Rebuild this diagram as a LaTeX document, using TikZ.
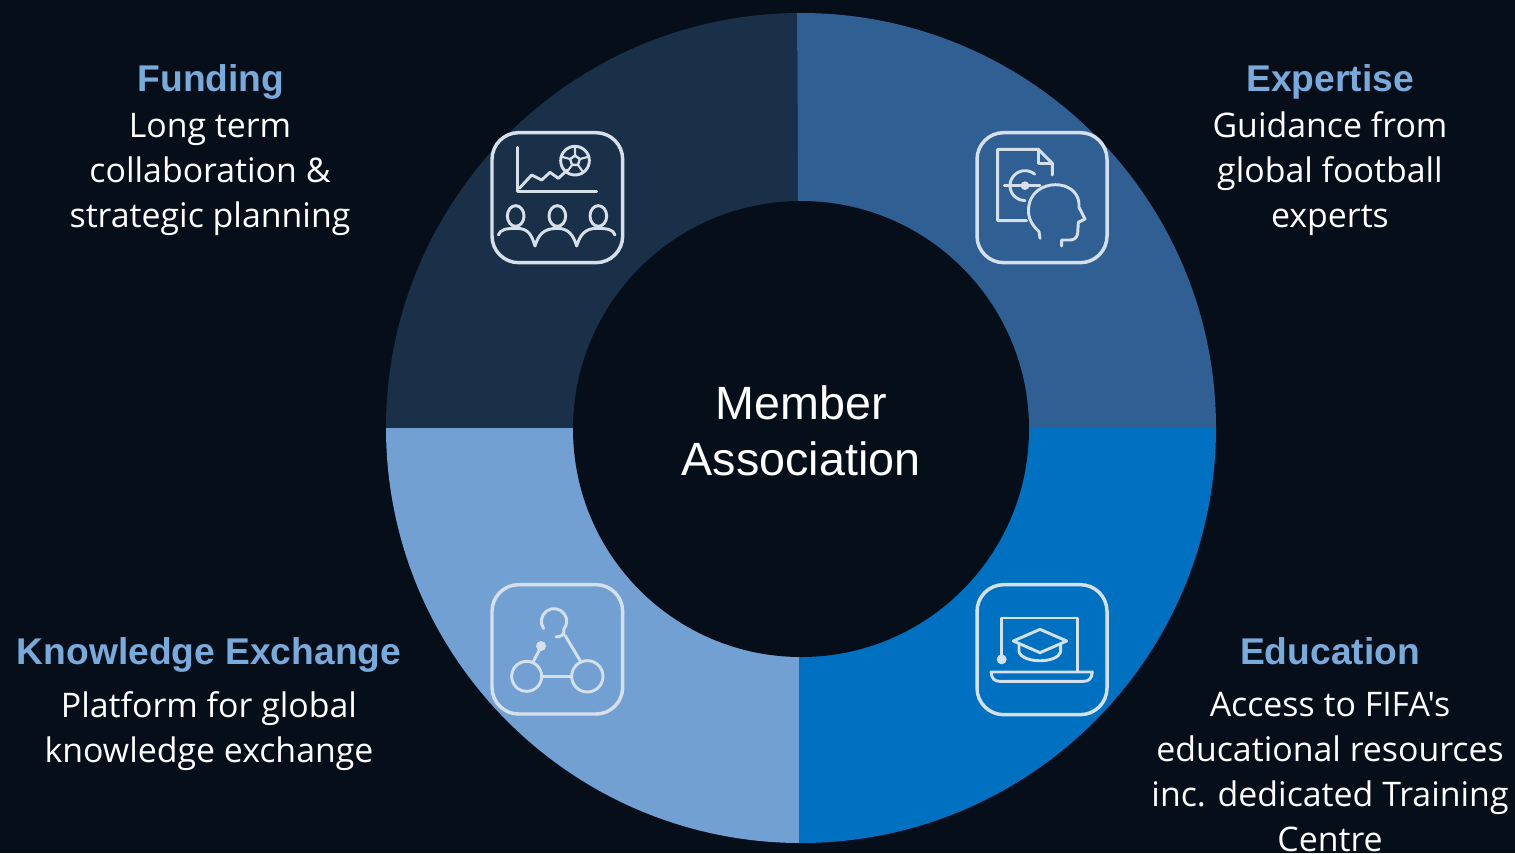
\documentclass[tikz,border=0pt]{standalone}
\usepackage{fontspec}
\setmainfont{Open Sans}
\newfontfamily\bodyfont[Ligatures=Common]{Open Sans}
\newfontfamily\arialfont{Liberation Sans}
\definecolor{bgc}{HTML}{060E1A}
\definecolor{segtl}{HTML}{1A3049}
\definecolor{segtr}{HTML}{305F94}
\definecolor{segbr}{HTML}{0070C0}
\definecolor{segbl}{HTML}{72A0D2}
\definecolor{headc}{HTML}{78ABDC}
\definecolor{iconc}{HTML}{D5E0EA}
\tikzset{
  headtext/.style={text=headc,font=\arialfont\bfseries\fontsize{27.9}{32}\selectfont,anchor=base,inner sep=0pt},
  bodytext/.style={text=white,font=\bodyfont\fontsize{25.4}{33.75}\selectfont,align=center,anchor=base,inner sep=0pt},
  centertext/.style={text=white,font=\arialfont\fontsize{35}{42}\selectfont,align=center,inner sep=0pt},
  iconbox/.style={draw=iconc,line width=2.6pt,rounded corners=20},
  iconline/.style={draw=iconc,line width=2.2pt,line cap=round,line join=round},
  iconscope/.style={x=.25pt,y=-.25pt}
}
\begin{document}
\begin{tikzpicture}[x=.75pt,y=-.75pt]
\path[use as bounding box,fill=bgc] (0,0) rectangle (1515,853);
\begin{scope}
  \clip (801,428) circle[radius=415];
  \fill[segtl] (380,428) -- (380,0) -- (797,0) -- (799,428) -- cycle;
  \fill[segtr] (797,0) -- (1220,0) -- (1220,428) -- (799,428) -- cycle;
  \fill[segbr] (799,428) -- (1220,428) -- (1220,853) -- (799,853) -- cycle;
  \fill[segbl] (380,428) -- (799,428) -- (799,853) -- (380,853) -- cycle;
\end{scope}
\fill[bgc] (801,429) circle[radius=228];

% Funding icon
\begin{scope}[shift={(480,120)},iconscope]
  \draw[iconbox] (36,38) rectangle (428,428);
  \draw[iconline] (113,82) -- (113,215) -- (350,215);
  \draw[iconline] (118,205) -- (155,165) -- (185,180) -- (210,157) -- (235,175) -- (262,150);
  \draw[iconline] (285,122) circle[radius=43];
  \draw[iconline,line width=1.6pt,fill=iconc] (285,106) -- (300,117) -- (294,135) -- (276,135) -- (270,117) -- cycle;
  \fill[segtl] (285,112) -- (295,119) -- (291,131) -- (279,131) -- (275,119) -- cycle;
  \draw[iconline,line width=1.6pt] (285,106) -- (285,80) (300,117) -- (326,110) (294,135) -- (310,157) (276,135) -- (260,157) (270,117) -- (244,110);
  \foreach \hx in {107,232,355} {
    \draw[iconline] (\hx,288) ellipse[x radius=25,y radius=31];
  }
  \draw[iconline] (55,345) .. controls (60,328) and (80,325) .. (110,325)
    .. controls (145,325) and (155,345) .. (165,378)
    .. controls (175,345) and (190,325) .. (232,325)
    .. controls (265,325) and (280,345) .. (290,378)
    .. controls (300,345) and (315,325) .. (350,325)
    .. controls (380,325) and (400,328) .. (405,345);
\end{scope}

% Expertise icon
\begin{scope}[shift={(965,120)},iconscope]
  \draw[iconbox] (36,38) rectangle (426,428);
  \draw[iconline] (185,302) -- (98,302) -- (98,88) -- (220,88) -- (262,130) -- (262,165);
  \draw[iconline] (220,88) -- (220,130) -- (262,130);
  \draw[iconline] (180,197) ++(-50:45) arc[start angle=-50,end angle=-270,radius=45];
  \draw[iconline] (118,197) -- (225,197);
  \fill[iconc] (180,197) circle[radius=13];
  \draw[iconline] (225,355) -- (222,335) .. controls (195,310) and (185,285) .. (193,250)
    .. controls (205,205) and (250,190) .. (285,195)
    .. controls (320,200) and (345,225) .. (342,262)
    -- (360,297) -- (340,307) -- (338,340)
    .. controls (336,355) and (325,360) .. (315,360) -- (290,360) -- (290,378);
\end{scope}

% Knowledge Exchange icon
\begin{scope}[shift={(480,572)},iconscope]
  \draw[iconbox] (36,38) rectangle (428,426);
  \draw[iconline] (222,148) ++(145:38) arc[start angle=145,end angle=400,radius=38]
    .. controls (255,185) and (245,195) .. (228,195);
  \draw[iconline] (255,190) -- (303,270);
  \draw[iconline] (140,313) circle[radius=45];
  \draw[iconline] (322,313) circle[radius=47];
  \draw[iconline] (185,313) -- (275,313);
  \draw[iconline] (160,268) -- (183,225);
  \fill[iconc] (183,222) circle[radius=15];
\end{scope}

% Education icon
\begin{scope}[shift={(965,572)},iconscope]
  \draw[iconbox] (36,38) rectangle (426,428);
  \draw[iconline] (110,262) -- (110,138) -- (337,138) -- (337,298);
  \fill[iconc] (110,262) circle[radius=15];
  \draw[iconline] (78,300) -- (382,300) .. controls (380,320) and (372,328) .. (355,328)
    -- (105,328) .. controls (88,328) and (80,320) .. (78,300) -- cycle;
  \draw[iconline] (145,207) -- (225,172) -- (305,207) -- (225,242) -- cycle;
  \draw[iconline] (162,218) -- (162,240) .. controls (175,275) and (275,275) .. (287,240) -- (287,218);
\end{scope}

\node[centertext] (center) at (801,431) {Member\\Association};

\node[headtext] (h1) at (211,91) {Funding};
\node[bodytext] (b1) at (210,227) {Long term\\collaboration \&\\strategic planning};
\node[headtext] (h2) at (1330,91) {Expertise};
\node[bodytext] (b2) at (1330,227) {Guidance from\\global football\\experts};
\node[headtext] (h3) at (209,664) {Knowledge Exchange};
\node[bodytext] (b3) at (209,762) {Platform for global\\knowledge exchange};
\node[headtext] (h4) at (1330,664) {Education};
\node[bodytext] (b4) at (1330,851) {Access to FIFA's\\educational resources\\inc. dedicated Training\\Centre};
\end{tikzpicture}
\end{document}
